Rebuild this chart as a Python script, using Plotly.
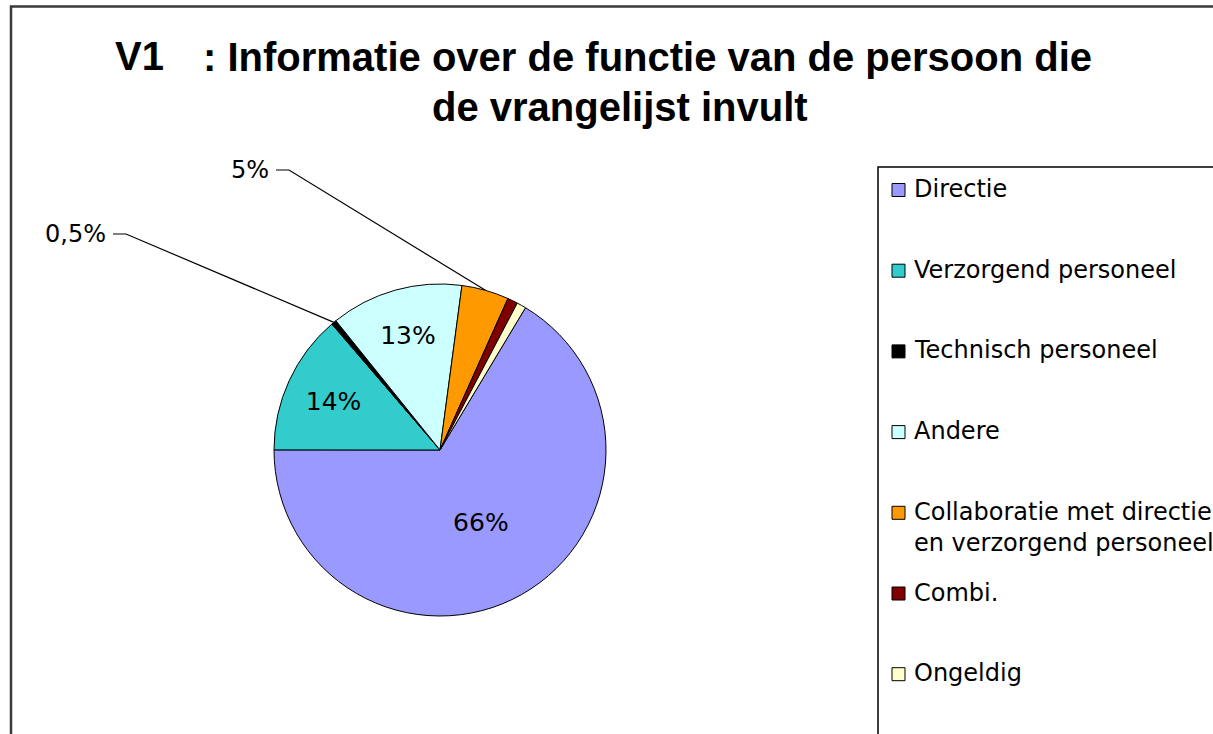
import math
import plotly.graph_objects as go

# ---------------- data ----------------
categories = [
    "Directie",
    "Verzorgend personeel",
    "Technisch personeel",
    "Andere",
    "Collaboratie met directie<br>en verzorgend personeel",
    "Combi.",
    "Ongeldig",
]
shares = [66.4, 13.7, 0.5, 12.9, 4.6, 1.0, 0.9]
inside_labels = ["66%", "14%", "", "13%", "", "", ""]
outside_labels = {2: "0,5%", 4: "5%"}
colors = ["#9999FF", "#33CCCC", "#000000", "#CCFFFF", "#FF9900", "#800000", "#FFFFCC"]

title_tag = "V1"
title_line1 = ": Informatie over de functie van de persoon die"
title_line2 = "de vrangelijst invult"

# ---------------- layout helpers ----------------
W, H = 1213, 734
CX, CY, R = 440, 450, 166
ROTATION = 31  # start angle (clockwise from 12 o'clock) of first slice


def px(x):
    return x / W


def py(y):
    return 1 - y / H


LABEL_FONT = dict(family="DejaVu Sans", size=25, color="black")

fig = go.Figure()
fig.add_trace(go.Pie(
    labels=categories,
    values=shares,
    text=inside_labels,
    textinfo="text",
    textposition="inside",
    insidetextorientation="horizontal",
    insidetextfont=LABEL_FONT,
    sort=False,
    direction="clockwise",
    rotation=ROTATION,
    marker=dict(colors=colors, line=dict(color="black", width=1)),
    showlegend=False,
    hoverinfo="label+percent",
    domain=dict(x=[px(CX - R), px(CX + R)], y=[py(CY + R), py(CY - R)]),
))

shapes = []
annotations = []

# outer frame
shapes.append(dict(type="rect", xref="paper", yref="paper",
                   x0=px(11), y0=py(6.5), x1=px(1260), y1=py(780),
                   line=dict(color="#3a3a3a", width=2.5)))

# outside labels with leader lines, anchored on slice mid-angles
total = sum(shares)
LABEL_POS = {2: (108, 234), 4: (271, 170)}
cum = 0.0
for i, v in enumerate(shares):
    a0 = ROTATION + cum / total * 360
    mid = math.radians(a0 + v / total * 180)
    cum += v
    if i in outside_labels:
        ax = CX + R * math.sin(mid)
        ay = CY - R * math.cos(mid)
        lx, ly = LABEL_POS[i]
        path = (f"M {px(lx + 5)},{py(ly)} L {px(lx + 18)},{py(ly)} "
                f"L {px(ax)},{py(ay)}")
        shapes.append(dict(type="path", xref="paper", yref="paper", path=path,
                           line=dict(color="black", width=1.2)))
        annotations.append(dict(text=outside_labels[i], x=px(lx), y=py(ly),
                                xref="paper", yref="paper", xanchor="right",
                                yanchor="middle", showarrow=False,
                                font=dict(family="DejaVu Sans", size=24, color="black")))

# legend (drawn manually to match the widely spaced original)
LEG_X0, LEG_Y0 = 878, 167
shapes.append(dict(type="rect", xref="paper", yref="paper",
                   x0=px(LEG_X0), y0=py(LEG_Y0), x1=px(1260), y1=py(780),
                   line=dict(color="black", width=1.5), fillcolor="rgba(0,0,0,0)"))
STEP = 80.7
for i, (cat, col) in enumerate(zip(categories, colors)):
    yc = 190 + i * STEP
    shapes.append(dict(type="rect", xref="paper", yref="paper",
                       x0=px(892), x1=px(905), y0=py(yc - 6.5), y1=py(yc + 6.5),
                       fillcolor=col, line=dict(color="black", width=1)))
    annotations.append(dict(text=cat, x=px(912), y=py(yc - 17), xref="paper", yref="paper",
                            xanchor="left", yanchor="top", align="left", showarrow=False,
                            font=dict(family="DejaVu Sans", size=24, color="black")))

# title
TITLE_FONT = dict(family="Liberation Sans", size=40, color="black", weight="bold")
annotations.append(dict(text=f"<b>{title_tag}</b>", x=px(139), y=py(56), xref="paper", yref="paper",
                        xanchor="center", yanchor="middle", showarrow=False, font=TITLE_FONT))
annotations.append(dict(text=f"<b>{title_line1}</b>", x=px(647), y=py(57), xref="paper", yref="paper",
                        xanchor="center", yanchor="middle", showarrow=False, font=TITLE_FONT))
annotations.append(dict(text=f"<b>{title_line2}</b>", x=px(620), y=py(107), xref="paper", yref="paper",
                        xanchor="center", yanchor="middle", showarrow=False, font=TITLE_FONT))

fig.update_layout(
    width=W, height=H,
    margin=dict(l=0, r=0, t=0, b=0),
    paper_bgcolor="white",
    plot_bgcolor="white",
    shapes=shapes,
    annotations=annotations,
)

fig.write_html("out.html", config={"displayModeBar": False},
               post_script="document.body.style.margin='0px';")
